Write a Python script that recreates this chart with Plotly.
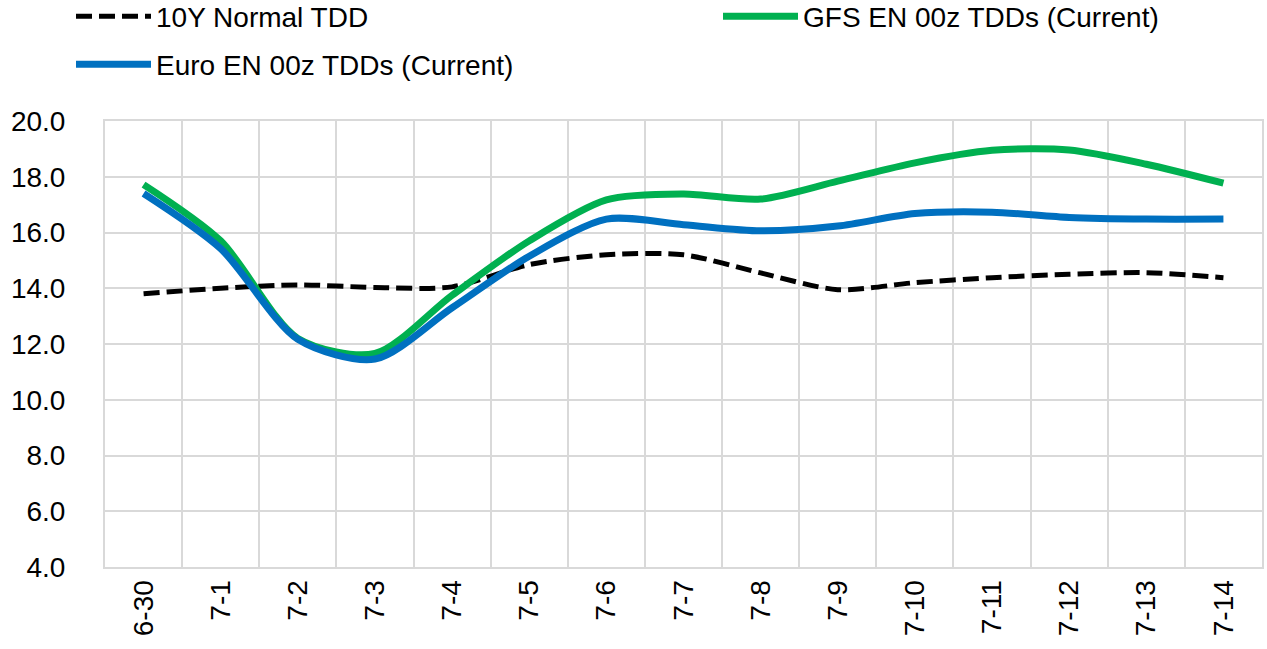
import plotly.graph_objects as go

dates = ["6-30", "7-1", "7-2", "7-3", "7-4", "7-5", "7-6", "7-7",
         "7-8", "7-9", "7-10", "7-11", "7-12", "7-13", "7-14"]
normal_10y = [13.8, 14.0, 14.12, 14.03, 14.05, 14.85, 15.2, 15.2,
              14.55, 13.95, 14.2, 14.38, 14.5, 14.56, 14.38]
gfs_en = [17.72, 15.7, 12.2, 11.66, 13.75, 15.7, 17.17, 17.38,
          17.2, 17.84, 18.5, 18.95, 18.96, 18.45, 17.77]
euro_en = [17.4, 15.42, 12.17, 11.46, 13.3, 15.15, 16.48, 16.28,
           16.06, 16.23, 16.68, 16.73, 16.54, 16.48, 16.48]

names = ["10Y Normal TDD", "GFS EN 00z TDDs (Current)", "Euro EN 00z TDDs (Current)"]

FONT = "Liberation Sans, Arial, sans-serif"
GRID = "#d9d9d9"

L, R, T, B = 105, 5, 121, 82
PH = 649 - T - B

fig = go.Figure()
fig.add_trace(go.Scatter(
    x=dates, y=normal_10y, name=names[0], mode="lines",
    line=dict(color="#000000", width=5, dash="16px,7px", shape="spline", smoothing=0.8),
    legend="legend"))
fig.add_trace(go.Scatter(
    x=dates, y=gfs_en, name=names[1], mode="lines",
    line=dict(color="#00B050", width=7, shape="spline", smoothing=0.8),
    legend="legend2"))
fig.add_trace(go.Scatter(
    x=dates, y=euro_en, name=names[2], mode="lines",
    line=dict(color="#0070C0", width=7, shape="spline", smoothing=0.8),
    legend="legend3"))

leg_common = dict(orientation="v", xref="container", yref="paper",
                  xanchor="left", yanchor="top", itemwidth=75,
                  font=dict(size=28, family=FONT), bgcolor="rgba(0,0,0,0)", borderwidth=0)

fig.update_layout(
    width=1267, height=649,
    margin=dict(l=L, r=R, t=T, b=B, autoexpand=False),
    paper_bgcolor="white", plot_bgcolor="white",
    font=dict(family=FONT, size=28, color="#000000"),
    showlegend=True,
    legend=dict(x=71 / 1267, y=1 + (T + 8.5) / PH, **leg_common),
    legend2=dict(x=718 / 1267, y=1 + (T + 8.5) / PH, **leg_common),
    legend3=dict(x=71 / 1267, y=1 + (T - 39.5) / PH, **leg_common),
)
fig.update_xaxes(
    type="category", range=[-0.5, len(dates) - 0.5],
    tickmode="array", tickvals=dates, ticktext=dates,
    tickson="boundaries", showgrid=True, gridcolor=GRID, gridwidth=2,
    showline=True, linecolor=GRID, linewidth=2, mirror=True,
    ticks="", tickangle=-90, tickfont=dict(size=28, family=FONT),
    zeroline=False, fixedrange=True,
)
fig.update_yaxes(
    range=[4, 20], dtick=2, tick0=4, tickformat=".1f",
    showgrid=True, gridcolor=GRID, gridwidth=2,
    showline=True, linecolor=GRID, linewidth=2, mirror=True,
    ticks="outside", ticklen=32, tickcolor="rgba(0,0,0,0)",
    tickfont=dict(size=28, family=FONT),
    zeroline=False, fixedrange=True,
)

fig.write_html("out.html",
               config={"displayModeBar": False},
               post_script="document.body.style.margin='0px';document.body.style.overflow='hidden';")
